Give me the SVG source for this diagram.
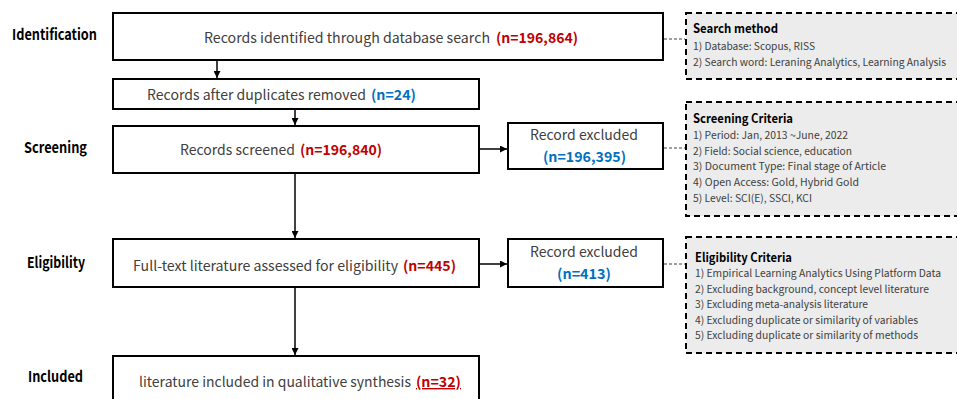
<svg xmlns="http://www.w3.org/2000/svg" width="957" height="399" viewBox="0 0 957 399">
  <style>
    text { font-family: "Noto Sans CJK KR", "Noto Sans", sans-serif; }
    .stage { font-size: 15px; font-weight: bold; fill: #000; }
    .box { fill: #fff; stroke: #000; stroke-width: 2; }
    .note { fill: #ececec; stroke: #000; stroke-width: 2; stroke-dasharray: 6 4; }
    .lbl { font-size: 14px; fill: #404040; }
    .red { font-size: 14px; fill: #c00000; font-weight: bold; }
    .blue { font-size: 14px; fill: #0070c0; font-weight: bold; }
    .ttl { font-size: 12.5px; font-weight: bold; fill: #000; }
    .itm { font-size: 10.4px; fill: #404040; }
    .flow { stroke: #000; stroke-width: 1.5; fill: none; marker-end: url(#ah); }
    .link { stroke: #404040; stroke-width: 1; fill: none; stroke-dasharray: 3 2; }
  </style>
  <defs>
    <marker id="ah" viewBox="0 0 10 10" refX="10" refY="5" markerWidth="7" markerHeight="7" markerUnits="userSpaceOnUse" orient="auto">
      <path d="M0,0 L10,5 L0,10 z" fill="#000"/>
    </marker>
  </defs>

  <rect width="957" height="399" fill="#fff"/>

  <!-- stage labels -->
  <g id="stages">
    <text class="stage" x="12" y="40" textLength="85" lengthAdjust="spacingAndGlyphs">Identification</text>
    <text class="stage" x="24" y="153" textLength="63" lengthAdjust="spacingAndGlyphs">Screening</text>
    <text class="stage" x="27" y="268" textLength="58" lengthAdjust="spacingAndGlyphs">Eligibility</text>
    <text class="stage" x="28" y="382" textLength="55" lengthAdjust="spacingAndGlyphs">Included</text>
  </g>

  <!-- connectors -->
  <g id="connectors">
    <line class="flow" x1="217" y1="61" x2="217" y2="78"/>
    <line class="flow" x1="295" y1="110" x2="295" y2="125"/>
    <line class="flow" x1="295" y1="174" x2="295" y2="238"/>
    <line class="flow" x1="295" y1="288" x2="295" y2="355"/>
    <line class="flow" x1="480" y1="149" x2="507" y2="149"/>
    <line class="flow" x1="480" y1="264" x2="507" y2="264"/>
    <line class="link" x1="664" y1="39" x2="685" y2="39"/>
    <line class="link" x1="664" y1="148" x2="685" y2="148"/>
    <line class="link" x1="664" y1="264" x2="685" y2="264"/>
  </g>

  <g id="identified">
    <rect class="box" x="113" y="13" width="550" height="47"/>
    <text class="lbl" x="204" y="43" textLength="286" lengthAdjust="spacingAndGlyphs">Records identified through database search</text>
    <text class="red" x="496" y="43" textLength="82" lengthAdjust="spacingAndGlyphs">(n=196,864)</text>
  </g>

  <g id="deduplicated">
    <rect class="box" x="113" y="79" width="366" height="30"/>
    <text class="lbl" x="147" y="100" textLength="219" lengthAdjust="spacingAndGlyphs">Records after duplicates removed</text>
    <text class="blue" x="371" y="100" textLength="45" lengthAdjust="spacingAndGlyphs">(n=24)</text>
  </g>

  <g id="screened">
    <rect class="box" x="113" y="126" width="366" height="47"/>
    <text class="lbl" x="180" y="155" textLength="115" lengthAdjust="spacingAndGlyphs">Records screened</text>
    <text class="red" x="300" y="155" textLength="82" lengthAdjust="spacingAndGlyphs">(n=196,840)</text>
  </g>

  <g id="excluded-screening">
    <rect class="box" x="508" y="123" width="155" height="46"/>
    <text class="lbl" x="530" y="140" textLength="108" lengthAdjust="spacingAndGlyphs">Record excluded</text>
    <text class="blue" x="543" y="162" textLength="83" lengthAdjust="spacingAndGlyphs">(n=196,395)</text>
  </g>

  <g id="assessed">
    <rect class="box" x="113" y="239" width="366" height="48"/>
    <text class="lbl" x="133" y="271" textLength="265" lengthAdjust="spacingAndGlyphs">Full-text literature assessed for eligibility</text>
    <text class="red" x="403" y="271" textLength="53" lengthAdjust="spacingAndGlyphs">(n=445)</text>
  </g>

  <g id="excluded-eligibility">
    <rect class="box" x="508" y="239" width="155" height="48"/>
    <text class="lbl" x="530" y="257" textLength="108" lengthAdjust="spacingAndGlyphs">Record excluded</text>
    <text class="blue" x="557" y="279" textLength="54" lengthAdjust="spacingAndGlyphs">(n=413)</text>
  </g>

  <g id="included">
    <rect class="box" x="113" y="356" width="366" height="60"/>
    <text class="lbl" x="139" y="387" textLength="272" lengthAdjust="spacingAndGlyphs">literature included in qualitative synthesis</text>
    <text class="red" x="416" y="387" textLength="45" lengthAdjust="spacingAndGlyphs" text-decoration="underline">(n=32)</text>
  </g>

  <g id="search-method">
    <rect class="note" x="686" y="13" width="280" height="66"/>
    <text class="ttl" x="693" y="33" textLength="85" lengthAdjust="spacingAndGlyphs">Search method</text>
    <text class="itm" x="693" y="50" textLength="122" lengthAdjust="spacingAndGlyphs">1) Database: Scopus, RISS</text>
    <text class="itm" x="693" y="66" textLength="253" lengthAdjust="spacingAndGlyphs">2) Search word: Leraning Analytics, Learning Analysis</text>
  </g>

  <g id="screening-criteria">
    <rect class="note" x="686" y="102" width="280" height="114"/>
    <text class="ttl" x="693" y="123" textLength="100" lengthAdjust="spacingAndGlyphs">Screening Criteria</text>
    <text class="itm" x="693" y="139" textLength="155" lengthAdjust="spacingAndGlyphs">1) Period: Jan, 2013 ~June, 2022</text>
    <text class="itm" x="693" y="155" textLength="159" lengthAdjust="spacingAndGlyphs">2) Field: Social science, education</text>
    <text class="itm" x="693" y="170" textLength="193" lengthAdjust="spacingAndGlyphs">3) Document Type: Final stage of Article</text>
    <text class="itm" x="693" y="186" textLength="166" lengthAdjust="spacingAndGlyphs">4) Open Access: Gold, Hybrid Gold</text>
    <text class="itm" x="693" y="202" textLength="119" lengthAdjust="spacingAndGlyphs">5) Level: SCI(E), SSCI, KCI</text>
  </g>

  <g id="eligibility-criteria">
    <rect class="note" x="686" y="237" width="280" height="116"/>
    <text class="ttl" x="695" y="262" textLength="97" lengthAdjust="spacingAndGlyphs">Eligibility Criteria</text>
    <text class="itm" x="695" y="277" textLength="246" lengthAdjust="spacingAndGlyphs">1) Empirical Learning Analytics Using Platform Data</text>
    <text class="itm" x="695" y="293" textLength="234" lengthAdjust="spacingAndGlyphs">2) Excluding background, concept level literature</text>
    <text class="itm" x="695" y="308" textLength="173" lengthAdjust="spacingAndGlyphs">3) Excluding meta-analysis literature</text>
    <text class="itm" x="695" y="324" textLength="223" lengthAdjust="spacingAndGlyphs">4) Excluding duplicate or similarity of variables</text>
    <text class="itm" x="695" y="339" textLength="223" lengthAdjust="spacingAndGlyphs">5) Excluding duplicate or similarity of methods</text>
  </g>
</svg>
